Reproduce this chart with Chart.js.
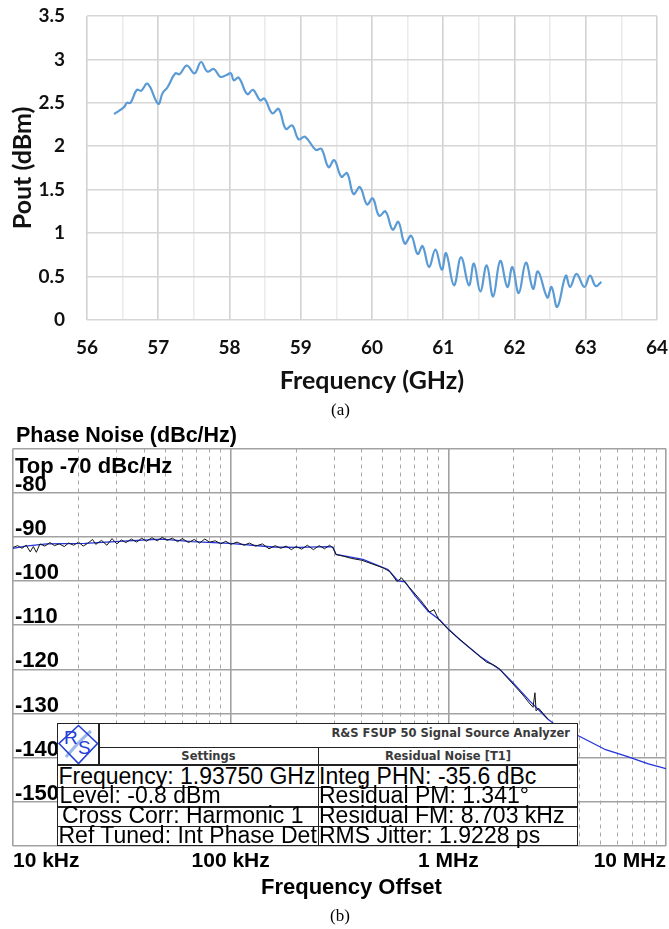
<!DOCTYPE html>
<html>
<head>
<meta charset="utf-8">
<script src="https://cdn.jsdelivr.net/npm/chart.js@4.4.0/dist/chart.umd.min.js"></script>
<style>
  body { margin: 0; background: #fff; }
  #page { position: relative; width: 669px; height: 929px; overflow: hidden; background: #fff;
          font-family: "Liberation Sans", Arial, sans-serif; }
  canvas { position: absolute; left: 0; }
  .txt { position: absolute; white-space: nowrap; color: #000; }
  .cap { font-family: "Liberation Serif", "Times New Roman", serif; font-size: 17px; }
  #info { position: absolute; left: 57px; top: 723px; width: 521px; height: 123px;
          background: #fff; border: 1.5px solid #222; box-sizing: border-box; }
  #info .ln { position: absolute; background: #222; }
  #info .hd { position: absolute; font-family: "DejaVu Sans", sans-serif; font-weight: bold;
              font-size: 11.5px; color: #3a3a3a; white-space: nowrap; line-height: 14px; }
  #info .row { position: absolute; font-size: 23px; line-height: 22px; white-space: nowrap; color: #000; }
</style>
</head>
<body>
<div id="page">
  <canvas id="powerChart" width="669" height="420" style="top:0"></canvas>
  <div class="txt cap" style="left:331px; top:400px;">(a)</div>

  <canvas id="noiseChart" width="669" height="509" style="top:420px"></canvas>
  <div class="txt" style="left:16px; top:422px; font-weight:bold; font-size:21.5px; line-height:26px;">Phase Noise (dBc/Hz)</div>
  <div class="txt" style="left:261px; top:873px; font-weight:bold; font-size:22px; line-height:27px;">Frequency Offset</div>
  <div class="txt cap" style="left:330px; top:906px;">(b)</div>

  <div id="info">
    <svg style="position:absolute;left:0;top:0" width="41" height="41" viewBox="0 0 41 41">
      <path d="M8 33 C14 26, 22 16, 33 7" stroke="#9db8ec" stroke-width="3" fill="none"/>
      <polygon points="20.5,1.5 39.5,19.5 20.5,39.5 1,19.5" fill="none" stroke="#2442d6" stroke-width="1.6"/>
      <text x="6" y="20" font-family="Liberation Sans, Arial" font-size="19" fill="#2442d6">R</text>
      <text x="20" y="30" font-family="Liberation Sans, Arial" font-size="19" fill="#2442d6">S</text>
    </svg>
    <div class="ln" style="left:40px; top:0; width:1.5px; height:41px;"></div>
    <div class="ln" style="left:40px; top:22.5px; right:0; height:1.5px;"></div>
    <div class="ln" style="left:0; top:40px; right:0; height:2px;"></div>
    <div class="ln" style="left:0; top:62.5px; right:0; height:1.5px;"></div>
    <div class="ln" style="left:0; top:82px; right:0; height:1.5px;"></div>
    <div class="ln" style="left:0; top:101.5px; right:0; height:1.5px;"></div>
    <div class="ln" style="left:259.5px; top:22.5px; width:1.5px; bottom:0;"></div>

    <div class="hd" style="right:7px; top:2px;">R&amp;S FSUP 50 Signal Source Analyzer</div>
    <div class="hd" style="left:41px; width:219px; top:24.5px; text-align:center;">Settings</div>
    <div class="hd" style="left:261px; width:258px; top:24.5px; text-align:center;">Residual Noise [T1]</div>

    <div class="row" style="left:0.5px; top:41px;">Frequency: 1.93750 GHz</div>
    <div class="row" style="left:1.5px; top:59.5px;">Level: -0.8 dBm</div>
    <div class="row" style="left:4px; top:79.5px;">Cross Corr: Harmonic 1</div>
    <div class="row" style="left:0.5px; top:99.5px;">Ref Tuned: Int Phase Det</div>

    <div class="row" style="left:261px; top:41px;">Integ PHN: -35.6 dBc</div>
    <div class="row" style="left:261px; top:59.5px;">Residual PM: 1.341°</div>
    <div class="row" style="left:261px; top:79.5px;">Residual FM: 8.703 kHz</div>
    <div class="row" style="left:261px; top:99.5px;">RMS Jitter: 1.9228 ps</div>
  </div>
</div>

<script>
// ---- (a) output power vs frequency ----
const freqGHz = [56.38, 56.52, 56.56, 56.61, 56.70, 56.76, 56.85, 57.00, 57.06, 57.13,
                 57.24, 57.30, 57.40, 57.51, 57.60, 57.69, 57.78, 57.87, 57.96, 58.02,
                 58.06, 58.13, 58.25, 58.33, 58.43, 58.49, 58.60, 58.69, 58.79, 58.88,
                 58.97, 59.06, 59.21, 59.29, 59.39, 59.47, 59.57, 59.65, 59.74, 59.83,
                 59.93, 60.01, 60.10, 60.19, 60.29, 60.37, 60.46, 60.55, 60.64, 60.71,
                 60.80, 60.89, 60.98, 61.04, 61.15, 61.25, 61.36, 61.43, 61.52, 61.61,
                 61.70, 61.80, 61.90, 61.97, 62.06, 62.16, 62.26, 62.33, 62.46, 62.52,
                 62.60, 62.72, 62.78, 62.87, 62.98, 63.06, 63.14, 63.22];
const poutDbm = [2.37, 2.45, 2.50, 2.50, 2.65, 2.64, 2.72, 2.49, 2.61, 2.68,
                 2.84, 2.83, 2.93, 2.84, 2.97, 2.86, 2.89, 2.80, 2.82, 2.84,
                 2.76, 2.79, 2.60, 2.65, 2.53, 2.55, 2.38, 2.43, 2.20, 2.24,
                 2.08, 2.11, 1.96, 1.97, 1.76, 1.84, 1.65, 1.69, 1.45, 1.53,
                 1.33, 1.40, 1.20, 1.25, 1.04, 1.13, 0.88, 0.97, 0.76, 0.85,
                 0.61, 0.81, 0.58, 0.77, 0.40, 0.72, 0.40, 0.65, 0.33, 0.63,
                 0.27, 0.68, 0.38, 0.61, 0.31, 0.66, 0.36, 0.56, 0.26, 0.38,
                 0.15, 0.51, 0.38, 0.53, 0.38, 0.51, 0.39, 0.44];

// ---- (b) phase noise trace (blue) and raw noisy trace (black) ----
const pnFreq = [1.0e4, 1.14e4, 1.43e4, 2.14e4, 3.37e4, 4.84e4, 6.64e4, 9.9e4, 1.56e5, 2.05e5,
                2.81e5, 2.95e5, 3.05e5, 4.05e5, 5.28e5, 5.87e5, 6.32e5, 7.03e5, 8.06e5, 9.14e5,
                1.006e6, 1.13e6, 1.40e6, 1.73e6, 1.98e6, 2.37e6, 2.87e6, 3.09e6, 4.02e6, 5.28e6,
                6.61e6, 8.30e6, 1.0e7];
const pnDb = [-92.6, -92.1, -91.6, -91.5, -90.9, -90.5, -91.1, -91.5, -92.3, -92.4,
              -92.2, -92.3, -94.0, -95.1, -97.4, -100.0, -100.2, -103.3, -106.8, -108.8,
              -111.0, -113.3, -117.1, -120.1, -123.0, -127.2, -131.3, -132.5, -135.2, -138.2,
              -139.7, -141.4, -142.5];

const rawFreq = [1.00e4, 1.05e4, 1.10e4, 1.15e4, 1.20e4, 1.24e4, 1.28e4, 1.33e4, 1.40e4, 1.48e4,
                 1.55e4, 1.63e4, 1.72e4, 1.80e4, 1.90e4, 2.00e4, 2.10e4, 2.20e4, 2.32e4, 2.40e4,
                 2.55e4, 2.70e4, 2.85e4, 3.00e4, 3.15e4, 3.30e4, 3.50e4, 3.70e4, 3.90e4, 4.10e4,
                 4.35e4, 4.60e4, 4.85e4, 5.10e4, 5.40e4, 5.70e4, 6.00e4, 6.40e4, 6.80e4, 7.20e4,
                 7.60e4, 8.00e4, 8.50e4, 9.00e4, 9.50e4, 1.00e5, 1.07e5, 1.15e5, 1.22e5, 1.30e5,
                 1.40e5, 1.50e5, 1.60e5, 1.70e5, 1.80e5, 1.90e5, 2.00e5, 2.12e5, 2.25e5, 2.40e5,
                 2.55e5, 2.70e5, 2.85e5, 2.95e5, 3.05e5, 3.30e5, 3.60e5, 4.00e5, 4.50e5, 5.00e5,
                 5.40e5, 5.80e5, 6.10e5, 6.50e5, 7.50e5, 8.20e5, 8.60e5, 9.00e5, 1.00e6, 1.50e6,
                 1.60e6, 1.70e6, 2.20e6, 2.35e6, 2.45e6, 2.50e6, 2.53e6, 2.60e6, 2.87e6];
const rawDb = [-92.4, -92.0, -92.6, -91.9, -93.4, -92.2, -93.5, -91.6, -92.1, -91.3,
               -92.0, -91.6, -92.2, -91.4, -91.9, -91.2, -92.1, -91.5, -90.6, -91.7,
               -90.8, -91.9, -90.4, -91.6, -90.7, -91.3, -90.5, -91.2, -90.3, -91.0,
               -90.2, -90.9, -90.1, -90.8, -90.3, -91.1, -90.4, -91.3, -90.6, -91.4,
               -90.5, -91.2, -90.9, -91.6, -91.0, -91.7, -91.2, -91.9, -91.4, -92.1,
               -91.6, -92.7, -92.0, -92.6, -92.1, -92.9, -92.2, -92.8, -91.9, -92.9,
               -92.0, -92.7, -91.9, -92.5, -94.0, -94.4, -94.9, -95.3, -96.2, -97.0,
               -97.9, -100.1, -99.3, -101.0, -104.5, -107.0, -106.5, -108.6, -111.0, -118.4,
               -118.9, -119.7, -125.8, -127.6, -128.6, -125.3, -129.4, -128.8, -131.3];

// tick labels for the log axis
const decadeLabels = { 1e4: '10 kHz', 1e5: '100 kHz', 1e6: '1 MHz', 1e7: '10 MHz' };
const topLabel = 'Top -70 dBc/Hz';

const isDecade = v => Math.abs(Math.log10(v) - Math.round(Math.log10(v))) < 1e-6;

const logTicks = [];
[1e4, 1e5, 1e6].forEach(d => {
    for (let m = 1; m < 10; m++) logTicks.push(m * d);
});
logTicks.push(1e7);

// keep the plot area where the picture has it: drop the label overhang padding
const noOverhang = s => { s.paddingTop = 0; s.paddingBottom = 0; s.paddingLeft = 0; s.paddingRight = 0; };

// Gráfico (a)
new Chart(document.getElementById('powerChart'), {
    type: 'line',
    data: {
        datasets: [{
            data: freqGHz.map((f, i) => ({ x: f, y: poutDbm[i] })),
            borderColor: '#5b9bd5',
            borderWidth: 2.2,
            pointRadius: 0,
            tension: 0.4,
            fill: false
        }]
    },
    options: {
        responsive: false,
        animation: false,
        layout: { padding: { left: 0, right: 12, top: 16, bottom: 0 } },
        plugins: { legend: { display: false }, tooltip: { enabled: false } },
        scales: {
            x: {
                type: 'linear', min: 56, max: 64,
                afterFit: s => { s.height = 100; noOverhang(s); },
                border: { display: false },
                grid: {
                    drawTicks: false,
                    color: c => Number.isInteger(c.tick.value) ? '#d2d2d2' : '#ebebeb',
                    lineWidth: 1.6
                },
                ticks: {
                    stepSize: 0.5, autoSkip: false, maxRotation: 0, padding: 16,
                    color: '#111',
                    font: { family: 'Lato', weight: 'bold', size: 19 },
                    callback: v => Number.isInteger(v) ? String(v) : ''
                },
                title: {
                    display: true, text: 'Frequency (GHz)', color: '#111',
                    font: { family: 'Lato', weight: 'bold', size: 25 },
                    padding: { top: 0, bottom: 24 }
                }
            },
            y: {
                min: 0, max: 3.5,
                afterFit: s => { s.width = 87; noOverhang(s); },
                border: { display: false },
                grid: { drawTicks: false, color: '#d6d6d6', lineWidth: 1.6 },
                ticks: {
                    stepSize: 0.5, autoSkip: false, padding: 22, color: '#111',
                    font: { family: 'Lato', weight: 'bold', size: 19 },
                    callback: v => String(Math.round(v * 10) / 10)
                },
                title: {
                    display: true, text: 'Pout (dBm)', color: '#111',
                    font: { family: 'Lato', weight: 'bold', size: 25 },
                    padding: { top: 8, bottom: 0 }
                }
            }
        }
    }
});

// Gráfico (b)
new Chart(document.getElementById('noiseChart'), {
    type: 'line',
    data: {
        datasets: [{
            data: rawFreq.map((f, i) => ({ x: f, y: rawDb[i] })),
            borderColor: '#151515',
            borderWidth: 1,
            pointRadius: 0,
            tension: 0
        }, {
            data: pnFreq.map((f, i) => ({ x: f, y: pnDb[i] })),
            borderColor: '#2233dd',
            borderWidth: 1.3,
            pointRadius: 0,
            tension: 0
        }]
    },
    options: {
        responsive: false,
        animation: false,
        layout: { padding: { left: 13, right: 3, top: 28.5, bottom: 0 } },
        plugins: { legend: { display: false }, tooltip: { enabled: false } },
        scales: {
            x: {
                type: 'logarithmic', min: 1e4, max: 1e7,
                afterBuildTicks: s => { s.ticks = logTicks.map(v => ({ value: v })); },
                afterFit: s => { s.height = 83; noOverhang(s); },
                border: {
                    display: false,
                    dash: c => (c.tick && !isDecade(c.tick.value)) ? [4, 4] : []
                },
                grid: {
                    drawTicks: false,
                    color: c => isDecade(c.tick.value) ? '#a2a2a2' : '#a8a8a8',
                    lineWidth: c => isDecade(c.tick.value) ? 1.6 : 1
                },
                ticks: {
                    autoSkip: false, maxRotation: 0, align: 'inner', padding: 3,
                    color: '#000',
                    font: { family: 'Liberation Sans', weight: 'bold', size: 21 },
                    callback: v => decadeLabels[v] || ''
                }
            },
            y: {
                min: -160, max: -70,
                afterFit: s => { s.width = 0; noOverhang(s); },
                border: { display: false },
                grid: { drawTicks: false, color: '#a2a2a2', lineWidth: 1.6 },
                ticks: {
                    stepSize: 10, autoSkip: false, mirror: true, padding: 2, labelOffset: -8,
                    color: '#000',
                    font: { family: 'Liberation Sans', weight: 'bold', size: 22 },
                    callback: v => v === -70 ? ['', '', topLabel] : (v === -160 ? '' : String(v))
                }
            }
        }
    }
});
</script>
</body>
</html>
